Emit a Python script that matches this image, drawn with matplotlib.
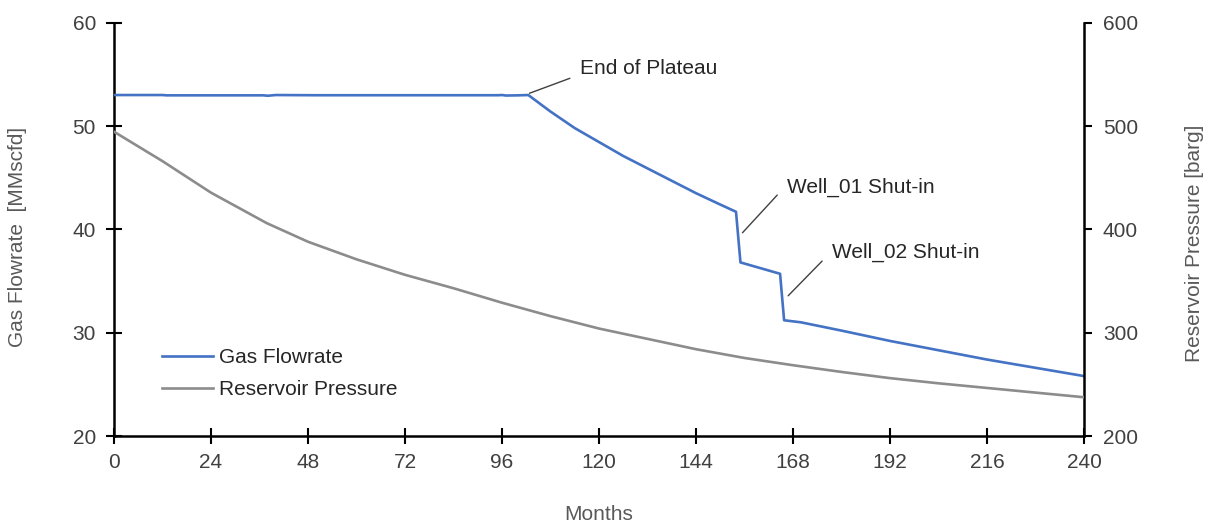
import matplotlib
matplotlib.use("Agg")
import matplotlib.pyplot as plt

plt.rcParams['font.family'] = ['Liberation Sans', 'DejaVu Sans']

# Gas flowrate (MMscfd) by month
rate_months = [0, 12, 13, 37, 38, 40, 50, 95, 96, 97, 100, 102.5, 108, 114, 120,
               126, 132, 138, 144, 150, 153.9, 155.0, 164.8, 165.8, 170, 180,
               192, 204, 216, 228, 240]
gas_rate = [53.0, 53.0, 52.97, 52.97, 52.93, 53.0, 52.98, 52.98, 53.0, 52.95,
            52.97, 53.0, 51.4, 49.8, 48.45, 47.1, 45.9, 44.7, 43.5, 42.4,
            41.7, 36.8, 35.7, 31.2, 31.0, 30.2, 29.2, 28.3, 27.4, 26.6, 25.8]

# Reservoir pressure (barg) by month
pres_months = [0, 12, 24, 37.8, 48, 60, 72, 84, 96, 108, 120, 132, 144, 156,
               168, 180, 192, 204, 216, 228, 240]
res_pressure = [494.5, 466, 435.5, 406, 388, 371, 356, 343, 329, 316, 304, 294,
                284, 275.5, 268.5, 262, 256, 251, 246.5, 242, 237.5]

x_ticks = list(range(0, 241, 24))
left_ticks = [20, 30, 40, 50, 60]
right_ticks = [200, 300, 400, 500, 600]

BLUE = '#4472C4'
GREY = '#8C8C8C'
TICK_COL = '#404040'
LABEL_COL = '#595959'
NOTE_COL = '#262626'
FS = 15

fig = plt.figure(figsize=(12.1, 5.24), dpi=100)
ax = fig.add_axes([114 / 1210, 1 - 436 / 524, 970 / 1210, (436 - 22.7) / 524])
ax2 = ax.twinx()

l1, = ax.plot(rate_months, gas_rate, color=BLUE, lw=1.9, label='Gas Flowrate',
              solid_joinstyle='round', zorder=3)
l2, = ax2.plot(pres_months, res_pressure, color=GREY, lw=1.9,
               label='Reservoir Pressure', solid_joinstyle='round', zorder=3)

ax.set_xlim(0, 240)
ax.set_ylim(20, 60)
ax2.set_ylim(200, 600)
ax.set_xticks(x_ticks)
ax.set_yticks(left_ticks)
ax2.set_yticks(right_ticks)

for a in (ax, ax2):
    a.spines['top'].set_visible(False)
    for s in a.spines.values():
        s.set_linewidth(1.8)
        s.set_color('black')
ax.spines['right'].set_visible(False)
ax2.spines['left'].set_visible(False)
ax2.spines['bottom'].set_visible(False)

ax.tick_params(axis='x', direction='inout', length=12, width=1.5, pad=6,
               labelsize=FS, labelcolor=TICK_COL)
ax.tick_params(axis='y', direction='inout', length=12, width=1.5, pad=7,
               labelsize=FS, labelcolor=TICK_COL)
ax2.tick_params(axis='y', direction='out', length=6, width=1.5, pad=7.5,
                labelsize=FS, labelcolor=TICK_COL)

ax.set_xlabel('Months', fontsize=FS, color=LABEL_COL, va='center')
ax.xaxis.set_label_coords(0.5, -(515 - 436) / 413.3)
ax.set_ylabel('Gas Flowrate  [MMscfd]', fontsize=FS, color=LABEL_COL,
              va='center', ha='center')
ax.yaxis.set_label_coords((18 - 114) / 970, (436 - 236.5) / 413.3)
ax2.set_ylabel('Reservoir Pressure [barg]', fontsize=FS, color=LABEL_COL,
               rotation=90, va='center', ha='center')
ax2.yaxis.set_label_coords((1194 - 114) / 970, (436 - 243) / 413.3)

# Event call-outs
notes = [
    ('End of Plateau', (102.8, 53.17), (112.8, 54.62), (115.3, 55.52)),
    ('Well_01 Shut-in', (155.5, 39.67), (164.1, 43.32), (166.5, 44.1)),
    ('Well_02 Shut-in', (166.8, 33.57), (175.2, 36.93), (177.6, 37.8)),
]
for text, p0, p1, pt in notes:
    ax.annotate('', xy=p0, xytext=p1,
                arrowprops=dict(arrowstyle='-', color='#404040', lw=1.0,
                                shrinkA=0, shrinkB=0))
    ax.text(pt[0], pt[1], text, fontsize=FS, color=NOTE_COL,
            ha='left', va='center')

leg = ax.legend(handles=[l1, l2], loc='upper left',
                bbox_to_anchor=(40 / 970, (436 - 340) / 413.3),
                frameon=False, fontsize=FS, handlelength=2.45,
                handletextpad=0.25, labelspacing=0.6, borderaxespad=0)
for t in leg.get_texts():
    t.set_color(NOTE_COL)

fig.savefig('out.png', dpi=100)
